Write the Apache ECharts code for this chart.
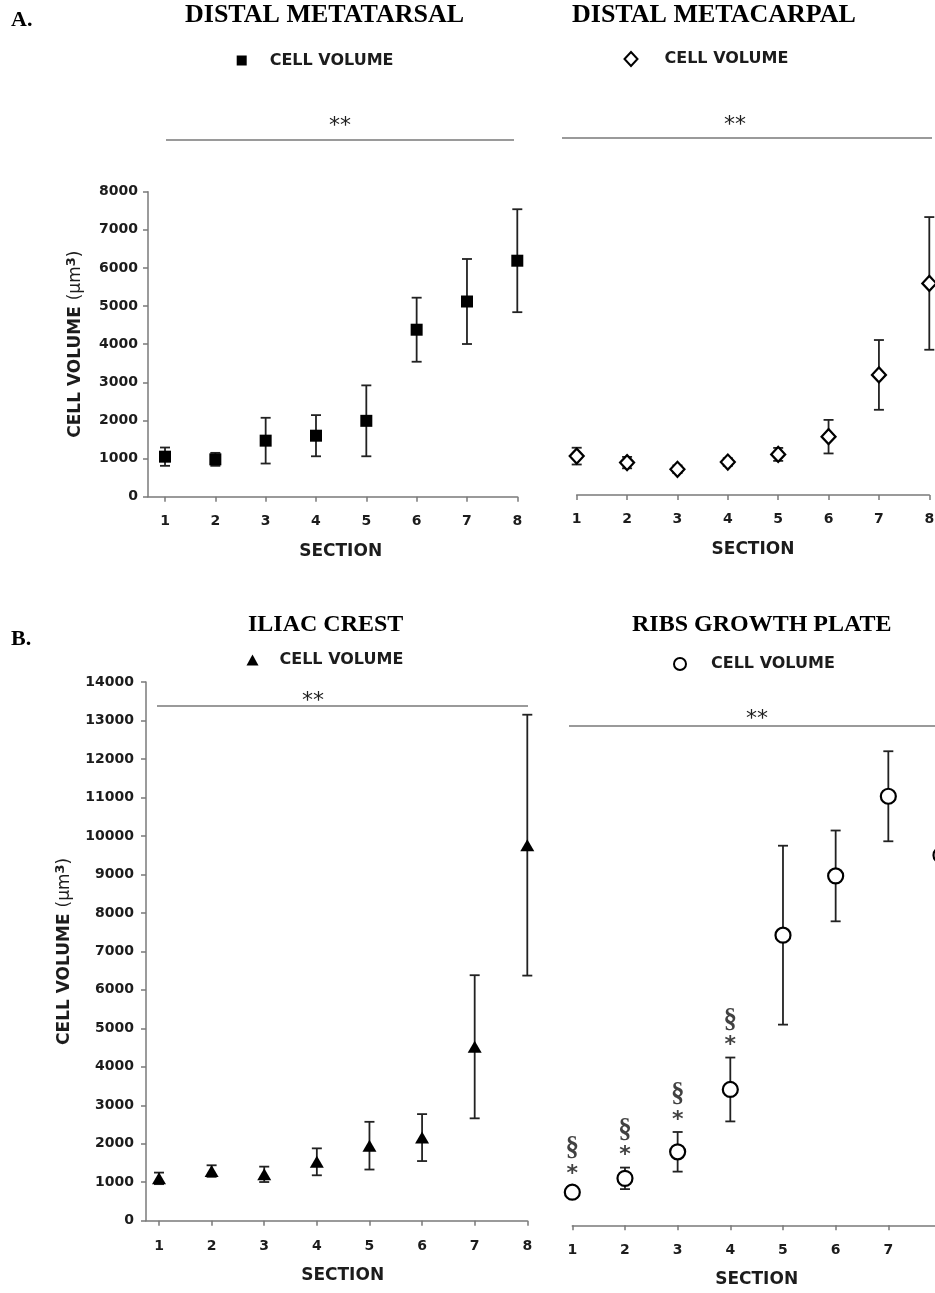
<!DOCTYPE html>
<html><head><meta charset="utf-8">
<script src="https://cdn.jsdelivr.net/npm/echarts@6/dist/echarts.min.js"></script>
<style>html,body{margin:0;padding:0;background:#fff}#c{width:935px;height:1293px}</style>
</head><body><div id="c"></div>
<script>
// ---------- data ----------
const sections = [1, 2, 3, 4, 5, 6, 7, 8];
const metatarsalMean = [1050, 980, 1470, 1600, 1990, 4380, 5120, 6190];
const metatarsalErr  = [240, 170, 600, 540, 930, 840, 1115, 1350];
const metacarpalMean = [1020, 850, 675, 865, 1065, 1530, 3150, 5550];
const metacarpalErr  = [220, 150, 100, 100, 170, 440, 915, 1740];
const iliacMean = [1100, 1290, 1205, 1530, 1950, 2160, 4520, 9760];
const iliacErr  = [150, 150, 200, 350, 620, 610, 1860, 3390];
const ribsMean = [860, 1220, 1910, 3530, 7540, 9080, 11150, 9620];
const ribsErr  = [150, 280, 515, 830, 2325, 1180, 1170, 1200];
const ribsAnnotatedSections = [1, 2, 3, 4];
const ribsAnnotationTop = '§';
const ribsAnnotationBottom = '*';
const panelTitles = ['DISTAL METATARSAL', 'DISTAL METACARPAL', 'ILIAC CREST', 'RIBS GROWTH PLATE'];
const panelLetters = ['A.', 'B.'];
const legendLabel = 'CELL VOLUME';
const xName = 'SECTION';
const significance = '**';

// ---------- style ----------
const SANS = 'DejaVu Sans';
const SERIF = 'Liberation Serif';
const TXT = '#1c1c1c';
const AX = '#7a7a7a';

const chart = echarts.init(document.getElementById('c'), null, {renderer: 'canvas'});

function errData(mean, err) { return sections.map((s, i) => [s, mean[i] - err[i], mean[i] + err[i]]); }
function ptData(mean) { return sections.map((s, i) => [s, mean[i]]); }

function errorBarItem(params, api) {
  const x = api.value(0);
  const lo = api.coord([x, api.value(1)]);
  const hi = api.coord([x, api.value(2)]);
  const w = 5;
  const style = {stroke: '#222', lineWidth: 1.8};
  return {type: 'group', children: [
    {type: 'line', shape: {x1: lo[0], y1: lo[1], x2: hi[0], y2: hi[1]}, style},
    {type: 'line', shape: {x1: hi[0] - w, y1: hi[1], x2: hi[0] + w, y2: hi[1]}, style},
    {type: 'line', shape: {x1: lo[0] - w, y1: lo[1], x2: lo[0] + w, y2: lo[1]}, style}
  ]};
}

const grids = [
  {left: 148, top: 191.7, width: 369.3, height: 305},
  {left: 576.7, top: 190, width: 352.6, height: 305},
  {left: 146, top: 682, width: 381.3, height: 538.7},
  {left: 572.3, top: 686.6, width: 368.7, height: 538.7}
].map(g => Object.assign({outerBoundsMode: 'none', containLabel: false}, g));
const xMins = [0.662, 1, 0.753, 1];
const yMaxs = [8000, 8000, 14000, 14000];
const showY = [true, false, true, false];
const yNameGap = [61, 0, 70, 0];
const xLabelMargin = [18, 17, 19, 18];
const xNamePad = [[0, 0, 0, 16], [0, 0, 0, 0], [0, 0, 0, 12], [0, 0, 0, 0]];

const xAxes = grids.map((g, i) => ({
  type: 'value', gridIndex: i, min: xMins[i], max: 8,
  name: xName, nameLocation: 'middle', nameGap: 46,
  nameTextStyle: {fontFamily: SANS, fontWeight: 'bold', fontSize: 17, color: TXT, padding: xNamePad[i]},
  axisLine: {show: true, lineStyle: {color: AX, width: 1.5}},
  axisTick: {show: true, length: 5, lineStyle: {color: AX, width: 1.5}, customValues: sections},
  axisLabel: {fontFamily: SANS, fontWeight: 'bold', fontSize: 14, color: TXT, margin: xLabelMargin[i], customValues: sections},
  splitLine: {show: false}
}));

const yAxes = grids.map((g, i) => ({
  type: 'value', gridIndex: i, min: 0, max: yMaxs[i], interval: 1000,
  show: showY[i],
  name: showY[i] ? '{b|CELL VOLUME }{n|(μm}{s|3}{n|)}' : '',
  nameLocation: 'middle', nameGap: yNameGap[i],
  nameTextStyle: {
    color: TXT,
    rich: {
      b: {fontFamily: SANS, fontWeight: 'bold', fontSize: 17, color: TXT, lineHeight: 22},
      n: {fontFamily: SANS, fontWeight: 'normal', fontSize: 17, color: TXT, lineHeight: 22},
      s: {fontFamily: SANS, fontWeight: 'bold', fontSize: 13, color: TXT, lineHeight: 22, verticalAlign: 'top', padding: [0, 0, 6, 0]}
    }
  },
  axisLine: {show: true, lineStyle: {color: AX, width: 1.5}},
  axisTick: {show: true, length: 5, lineStyle: {color: AX, width: 1.5}},
  axisLabel: {fontFamily: SANS, fontWeight: 'bold', fontSize: 14, color: TXT, margin: i === 0 ? 10 : 12,
    formatter: v => String(v)},
  splitLine: {show: false}
}));

const means = [metatarsalMean, metacarpalMean, iliacMean, ribsMean];
const errs = [metatarsalErr, metacarpalErr, iliacErr, ribsErr];
const seriesNames = ['Metatarsal', 'Metacarpal', 'Iliac', 'Ribs'];
const symbols = ['rect', 'diamond', 'triangle', 'circle'];
const symbolSizes = [12, [14, 15], [14, 12], 15];
const itemStyles = [
  {color: '#000', opacity: 1},
  {color: '#fff', borderColor: '#000', borderWidth: 2.2, opacity: 1},
  {color: '#000', opacity: 1},
  {color: '#fff', borderColor: '#000', borderWidth: 2.2, opacity: 1}
];

const series = [];
for (let i = 0; i < 4; i++) {
  series.push({
    type: 'custom', name: seriesNames[i] + ' SEM', xAxisIndex: i, yAxisIndex: i,
    renderItem: errorBarItem, data: errData(means[i], errs[i]),
    encode: {x: 0, y: [1, 2]}, z: 2, silent: true, clip: false
  });
  series.push({
    type: 'scatter', name: seriesNames[i], xAxisIndex: i, yAxisIndex: i,
    symbol: symbols[i], symbolSize: symbolSizes[i], itemStyle: itemStyles[i],
    data: ptData(means[i]), z: 5
  });
}
// ribs annotations (§ over *) anchored at top of error bar
series.push({
  type: 'scatter', name: 'ribsAnno', xAxisIndex: 3, yAxisIndex: 3, symbolSize: 0, silent: true,
  data: ribsAnnotatedSections.map(s => [s, ribsMean[s - 1] + ribsErr[s - 1]]),
  label: {
    show: true, position: 'top', distance: 6,
    formatter: '{t|' + ribsAnnotationTop + '}\n{a|' + ribsAnnotationBottom + '}',
    rich: {
      t: {fontFamily: SERIF, fontWeight: 'bold', fontSize: 27, color: '#111', lineHeight: 24, align: 'center'},
      a: {fontFamily: SANS, fontWeight: 'bold', fontSize: 22, color: '#111', lineHeight: 20, align: 'center', padding: [8, 0, 0, 0]}
    }
  }
});

const legendPos = [
  {left: 236.7, top: 52.5, w: 10, h: 10, g: 18},
  {left: 623.5, top: 51, w: 13, h: 14, g: 22},
  {left: 246.5, top: 652, w: 12, h: 11, g: 16},
  {left: 673, top: 656, w: 12, h: 12, g: 20}
];
const legends = legendPos.map((p, i) => ({
  data: [seriesNames[i]], left: p.left, top: p.top, padding: 0,
  itemWidth: p.w, itemHeight: p.h, selectedMode: false,
  formatter: () => '{g|}' + legendLabel,
  textStyle: {fontFamily: SANS, fontWeight: 'bold', fontSize: 16, color: TXT, rich: {g: {width: p.g}}}
}));

const titleStyleA = {fontFamily: SERIF, fontWeight: 'bold', fontSize: 26, color: '#000'};
const titleStyleB = {fontFamily: SERIF, fontWeight: 'bold', fontSize: 24, color: '#000'};
const titles = [
  {text: panelTitles[0], left: 185, top: 2, textStyle: titleStyleA},
  {text: panelTitles[1], left: 572, top: 2, textStyle: titleStyleA},
  {text: panelTitles[2], left: 248, top: 613, textStyle: titleStyleB},
  {text: panelTitles[3], left: 632, top: 613, textStyle: titleStyleB},
  {text: panelLetters[0], left: 11, top: 9, textStyle: Object.assign({}, titleStyleB, {fontSize: 22})},
  {text: panelLetters[1], left: 11, top: 628, textStyle: Object.assign({}, titleStyleB, {fontSize: 22})}
].map(t => Object.assign({padding: 0}, t));

const sigLines = [
  {x1: 166, x2: 514, y: 140, tx: 340, ty: 126},
  {x1: 562, x2: 932, y: 138, tx: 735, ty: 125},
  {x1: 157, x2: 528, y: 706, tx: 313, ty: 701},
  {x1: 569, x2: 935, y: 726, tx: 757, ty: 719}
];
const graphics = [];
sigLines.forEach(l => {
  graphics.push({type: 'line', shape: {x1: l.x1, y1: l.y, x2: l.x2, y2: l.y}, style: {stroke: '#9a9a9a', lineWidth: 2}});
  graphics.push({type: 'text', x: l.tx, y: l.ty, style: {text: significance, font: '22px "DejaVu Sans"', fill: '#222', textAlign: 'center', textVerticalAlign: 'middle'}});
});

chart.setOption({
  animation: false,
  backgroundColor: '#fff',
  title: titles,
  legend: legends,
  grid: grids,
  xAxis: xAxes,
  yAxis: yAxes,
  series: series,
  graphic: graphics
});
</script></body></html>
